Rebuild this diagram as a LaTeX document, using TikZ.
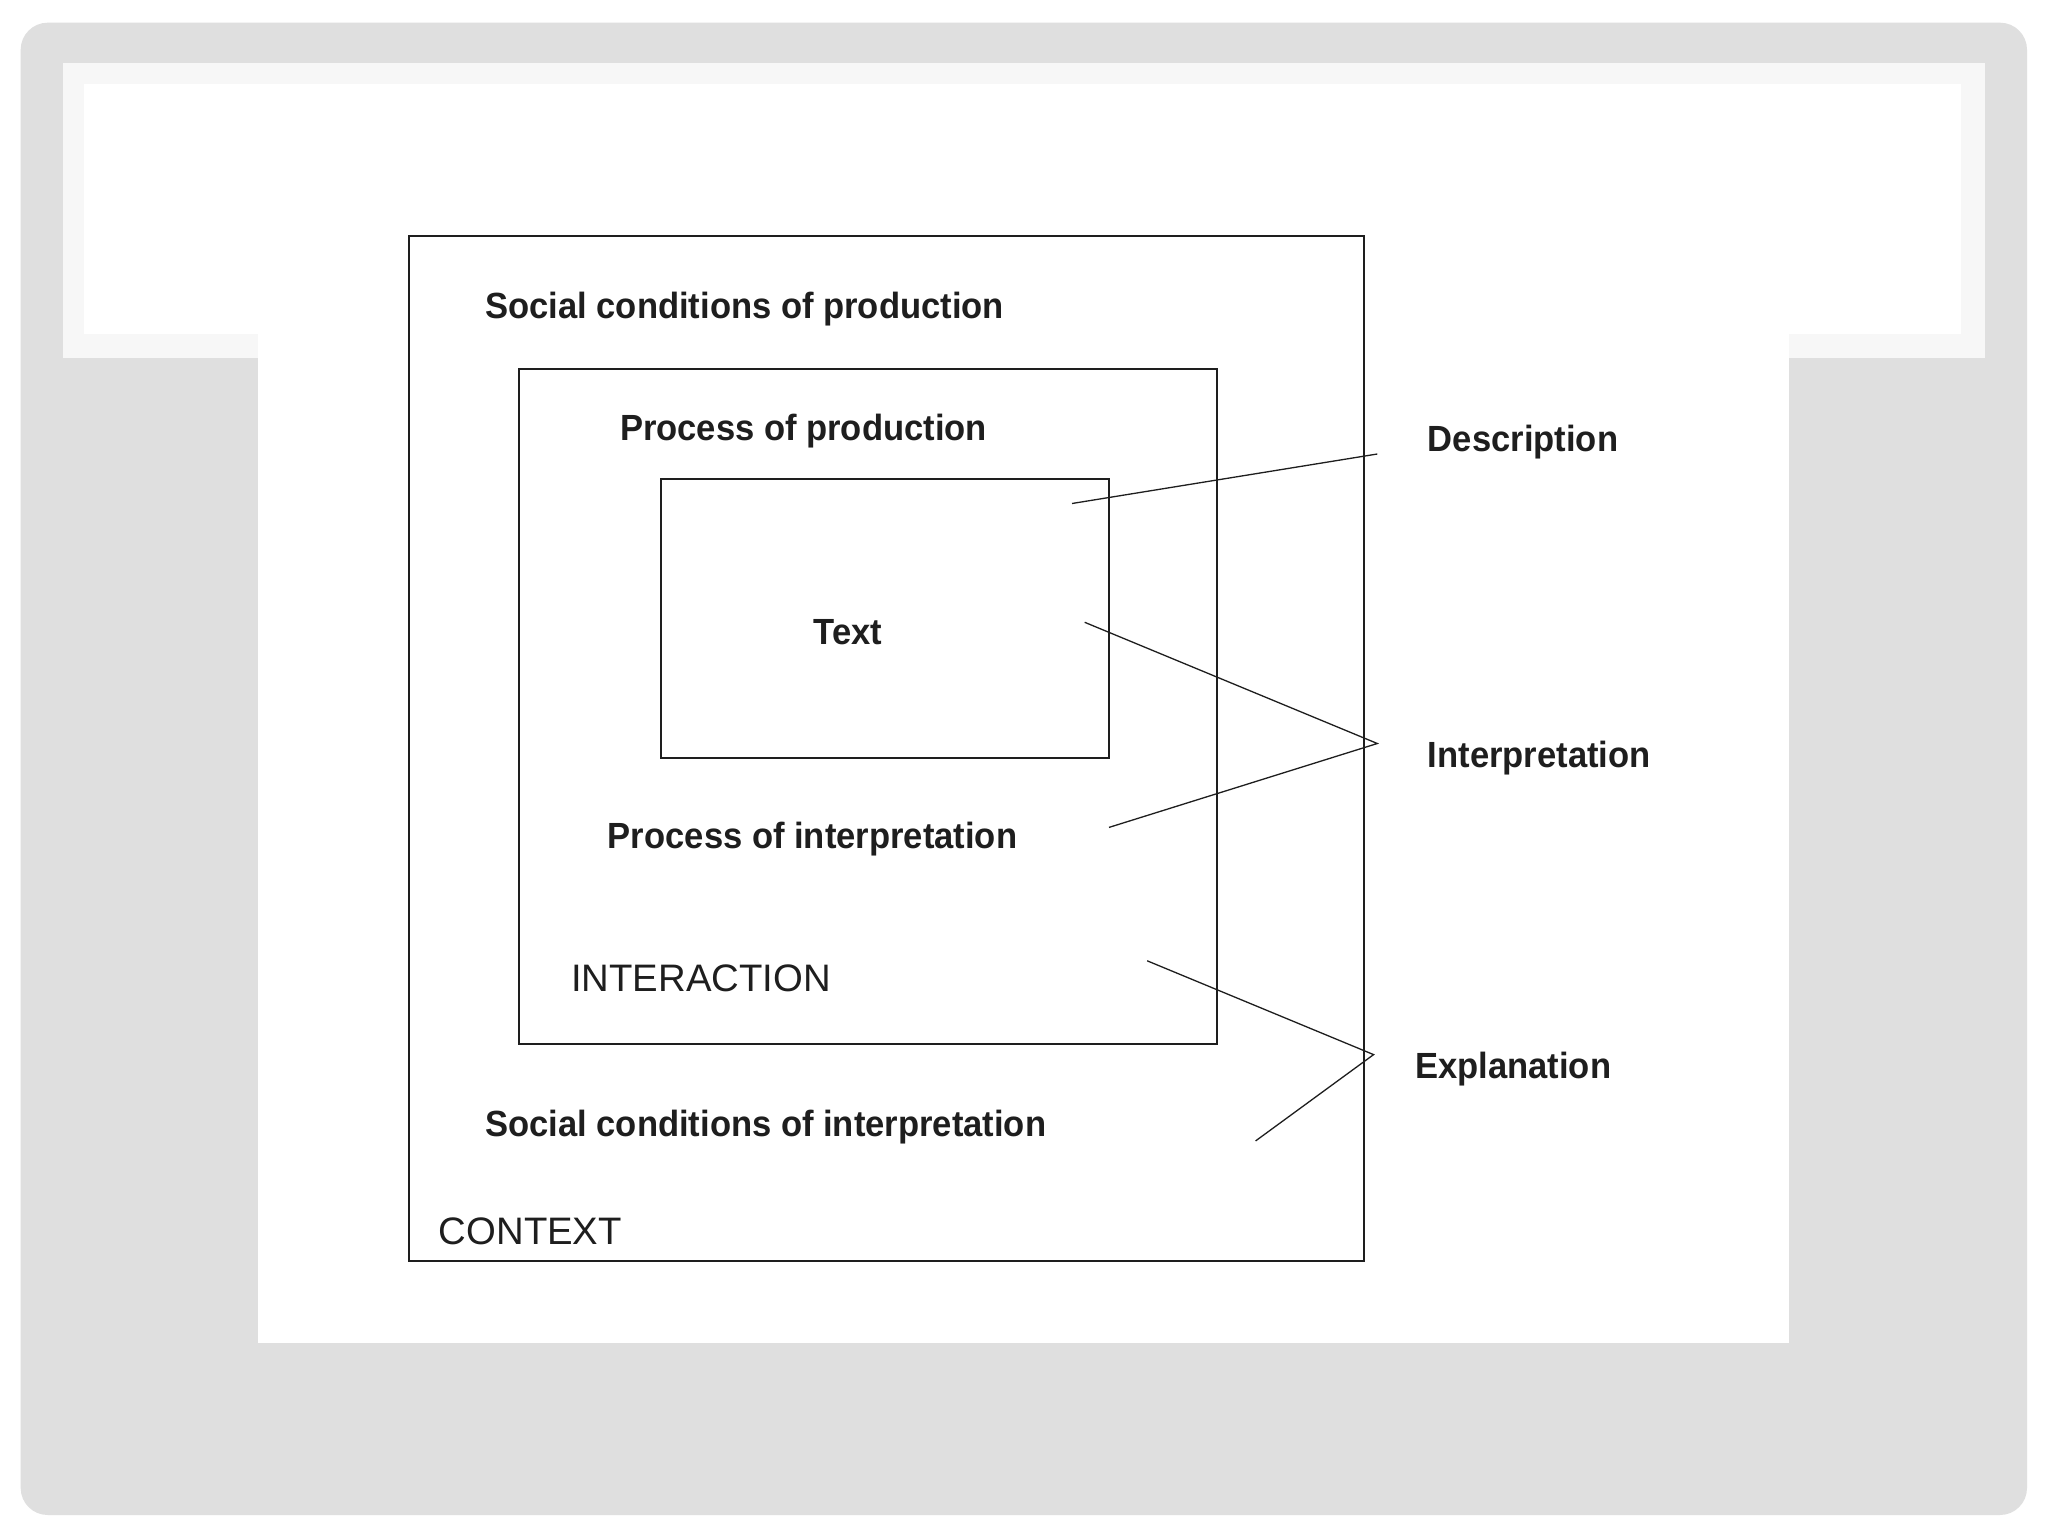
\documentclass[tikz,border=0pt]{standalone}
\usepackage{fontspec}
\setmainfont{Liberation Sans}
\newfontfamily\lblfont{Liberation Sans}[FakeStretch=0.95]
\definecolor{pagegray}{HTML}{DFDFDF}
\definecolor{barlight}{HTML}{F7F7F7}
\definecolor{ink}{HTML}{1E1E1E}
\begin{document}
\begin{tikzpicture}[x=1pt,y=-1pt,
  boxline/.style={draw=ink,line width=2pt},
  leader/.style={draw=ink,line width=1.3pt},
  lblb/.style={inner sep=0pt,anchor=base west,text=ink,font=\lblfont\fontsize{36.4}{42}\selectfont\bfseries},
  lblr/.style={inner sep=0pt,anchor=base west,text=ink,font=\fontsize{38.3}{44}\selectfont}]
\useasboundingbox (0,0) rectangle (2048,1536);
\fill[white] (0,0) rectangle (2048,1536);
% slide background
\fill[pagegray,rounded corners=27pt] (20.7,22.7) rectangle (2027,1515);
\fill[barlight] (62.7,63.3) rectangle (1985,357.5);
\fill[white] (84,84) rectangle (1961,334);
\fill[white] (258,334) rectangle (1789,1343);
% boxes
\draw[boxline] (409,236) rectangle (1364,1261);
\draw[boxline] (519,368.7) rectangle (1217.4,1043.7);
\draw[boxline] (661.3,478.6) rectangle (1109,757.5);
% labels
\node[lblb] (scp) at (485,318.8) {Social conditions of production};
\node[lblb] (pop) at (619.8,440.3) {Process of production};
\node[lblb] (txt) at (813.7,644.5) {Text};
\node[lblb] (poi) at (607.7,848) {Process of interpretation};
\node[lblr] (inter) at (571,991.6) {INTERACTION};
\node[lblb] (sci) at (485,1136.5) {Social conditions of interpretation};
\node[lblr] (ctx) at (438.7,1244.3) {CONTEXT};
\node[lblb] (desc) at (1427.7,451.2) {Description};
\node[lblb] (interp) at (1427.7,767.5) {Interpretation};
\node[lblb] (expl) at (1415,1078.5) {Explanation};
% leader line points
\coordinate (d1) at (1072,503.5);
\coordinate (d2) at (1377.3,454);
\coordinate (i1) at (1084.7,622.3);
\coordinate (i2) at (1377.3,743.5);
\coordinate (i3) at (1109,827.4);
\coordinate (e1) at (1147.2,960.8);
\coordinate (e2) at (1373.6,1054.6);
\coordinate (e3) at (1255.6,1140.9);
\draw[leader] (d1) -- (d2);
\draw[leader] (i1) -- (i2) -- (i3);
\draw[leader] (e1) -- (e2) -- (e3);
\end{tikzpicture}
\end{document}
